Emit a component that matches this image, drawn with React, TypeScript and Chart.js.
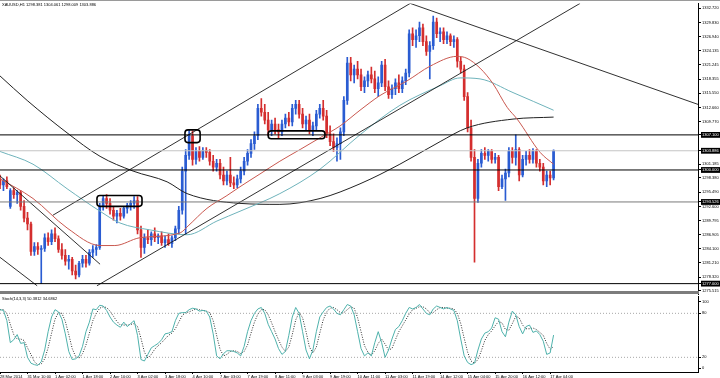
import React, { useEffect, useRef } from "react";
import { Chart, registerables } from "chart.js";

Chart.register(...registerables);

const FONT = '"Liberation Sans", Arial, sans-serif';

const symbolHeader = "XAUUSD,H1 1298.381 1304.061 1298.009 1303.886";
const stochHeader = "Stoch(14,3,3) 50.3812 34.6862";

const slotCount = 203;
const priceMin = 1274.78;
const priceMax = 1333.71;

const timeLabels = [
  "28 Mar 2014", "31 Mar 10:00", "1 Apr 02:00", "1 Apr 18:00", "2 Apr 10:00",
  "3 Apr 02:00", "3 Apr 18:00", "4 Apr 10:00", "7 Apr 03:00", "7 Apr 19:00",
  "8 Apr 11:00", "9 Apr 03:00", "9 Apr 19:00", "10 Apr 11:00", "11 Apr 03:00",
  "11 Apr 19:00", "14 Apr 12:00", "15 Apr 04:00", "15 Apr 20:00", "16 Apr 12:00",
  "17 Apr 04:00",
];
const labelEvery = 8;

const priceTicks = [
  1332.72, 1329.83, 1326.94, 1324.135, 1321.245, 1318.355, 1315.55, 1312.66, 1309.77,
  1301.185, 1298.38, 1295.49, 1292.6, 1289.795, 1286.905, 1284.1, 1281.21, 1278.32, 1275.515,
];
const levelPrices = [1307.1, 1303.886, 1300.0, 1293.526, 1277.0];
const levelColors = ["#000000", "#c4c4c4", "#000000", "#7a7a7a", "#000000"];

// [open, high, low, close]
const candles: number[][] = [
  [1298.20, 1298.99, 1296.21, 1297.00], [1297.00, 1298.20, 1295.82, 1297.80], [1297.80, 1298.59, 1296.21, 1296.61],
  [1292.64, 1296.21, 1292.24, 1295.82], [1295.82, 1296.41, 1294.23, 1295.02], [1295.02, 1295.82, 1293.24, 1295.42],
  [1295.42, 1295.82, 1291.85, 1292.64], [1292.64, 1293.83, 1289.47, 1290.26], [1290.26, 1291.45, 1287.88, 1289.07],
  [1289.07, 1289.47, 1282.72, 1283.51], [1283.51, 1285.30, 1282.72, 1284.51], [1284.51, 1285.30, 1282.92, 1283.91],
  [1283.91, 1284.71, 1276.97, 1284.11], [1284.11, 1287.08, 1283.51, 1286.29], [1286.29, 1287.28, 1284.71, 1285.50],
  [1285.50, 1287.88, 1284.90, 1287.08], [1287.08, 1288.27, 1285.50, 1286.09], [1286.09, 1286.69, 1283.32, 1283.91],
  [1283.91, 1285.10, 1281.93, 1282.72], [1282.72, 1283.91, 1280.74, 1281.53], [1281.53, 1282.72, 1279.94, 1281.93],
  [1281.93, 1282.32, 1278.75, 1279.55], [1279.55, 1280.74, 1277.96, 1278.75], [1278.75, 1281.53, 1278.35, 1281.13],
  [1281.13, 1282.72, 1280.34, 1281.93], [1281.93, 1282.72, 1280.34, 1281.13], [1281.13, 1283.91, 1280.74, 1283.32],
  [1283.32, 1284.71, 1282.32, 1283.91], [1283.91, 1284.90, 1282.72, 1284.31], [1284.31, 1293.24, 1283.91, 1292.64],
  [1292.64, 1294.82, 1291.85, 1294.23], [1294.23, 1295.02, 1292.24, 1293.24], [1293.24, 1294.23, 1291.05, 1291.85],
  [1291.85, 1292.64, 1289.86, 1290.66], [1290.66, 1291.85, 1289.27, 1291.25], [1291.25, 1292.24, 1289.86, 1290.66],
  [1290.66, 1292.64, 1290.26, 1292.24], [1292.24, 1293.24, 1291.25, 1292.84], [1292.84, 1293.83, 1291.85, 1293.24],
  [1293.24, 1294.63, 1292.24, 1293.83], [1293.83, 1294.63, 1287.08, 1287.88], [1287.88, 1288.67, 1282.32, 1284.31],
  [1284.31, 1287.08, 1283.12, 1286.29], [1286.29, 1287.88, 1285.10, 1285.89], [1285.89, 1287.48, 1284.71, 1287.08],
  [1287.08, 1288.27, 1285.50, 1286.29], [1286.29, 1287.08, 1285.10, 1286.69], [1286.69, 1287.48, 1284.71, 1285.30],
  [1285.30, 1286.69, 1284.31, 1285.89], [1285.89, 1287.08, 1284.71, 1285.10], [1285.10, 1286.69, 1284.31, 1286.29],
  [1286.29, 1288.67, 1285.70, 1288.08], [1288.08, 1292.64, 1287.08, 1291.85], [1291.85, 1300.58, 1291.05, 1299.78],
  [1299.78, 1304.15, 1286.89, 1302.96], [1302.96, 1308.12, 1302.16, 1306.93], [1306.93, 1307.92, 1300.97, 1302.16],
  [1302.16, 1304.55, 1301.17, 1303.75], [1303.75, 1304.74, 1301.77, 1302.56], [1302.56, 1304.55, 1302.16, 1303.95],
  [1303.95, 1304.55, 1302.56, 1303.55], [1303.55, 1304.15, 1300.97, 1301.77], [1301.77, 1302.96, 1299.78, 1300.58],
  [1300.58, 1302.16, 1299.78, 1301.37], [1301.37, 1302.16, 1298.20, 1298.99], [1298.99, 1300.58, 1297.00, 1297.80],
  [1297.80, 1299.78, 1297.00, 1298.99], [1298.99, 1302.56, 1296.61, 1297.40], [1297.40, 1298.59, 1296.21, 1297.00],
  [1297.00, 1298.99, 1296.41, 1298.20], [1298.20, 1300.58, 1297.40, 1299.78], [1299.78, 1302.56, 1298.99, 1301.77],
  [1301.77, 1304.15, 1300.97, 1303.36], [1303.36, 1306.13, 1302.56, 1305.34], [1305.34, 1307.72, 1304.15, 1306.93],
  [1306.93, 1313.27, 1306.13, 1312.48], [1312.48, 1314.47, 1310.89, 1311.69], [1311.69, 1313.27, 1309.31, 1310.10],
  [1310.10, 1311.69, 1306.93, 1308.12], [1308.12, 1310.10, 1306.93, 1309.31], [1309.31, 1310.50, 1307.32, 1308.12],
  [1308.12, 1309.31, 1306.53, 1307.72], [1307.72, 1310.10, 1306.93, 1309.31], [1309.31, 1311.29, 1308.51, 1310.50],
  [1310.50, 1311.69, 1308.91, 1309.70], [1309.70, 1313.27, 1308.91, 1312.48], [1312.48, 1314.07, 1311.29, 1313.27],
  [1313.27, 1314.07, 1310.50, 1311.29], [1311.29, 1312.48, 1308.51, 1309.31], [1309.31, 1310.89, 1308.12, 1310.10],
  [1310.10, 1311.29, 1307.32, 1308.12], [1308.12, 1309.70, 1306.93, 1308.91], [1308.91, 1312.09, 1308.12, 1311.29],
  [1311.29, 1313.27, 1310.50, 1312.48], [1312.48, 1314.07, 1310.10, 1310.89], [1310.89, 1312.09, 1306.53, 1307.32],
  [1307.32, 1308.91, 1304.94, 1305.74], [1305.74, 1307.32, 1303.75, 1304.55], [1304.55, 1306.53, 1301.77, 1305.34],
  [1305.34, 1308.51, 1302.16, 1307.72], [1307.72, 1314.86, 1306.93, 1314.07], [1314.07, 1322.80, 1313.27, 1321.61],
  [1321.61, 1322.80, 1318.04, 1319.23], [1319.23, 1321.21, 1317.64, 1320.42], [1320.42, 1322.01, 1318.43, 1319.23],
  [1319.23, 1320.42, 1316.05, 1316.85], [1316.85, 1318.83, 1315.66, 1318.04], [1318.04, 1320.02, 1316.85, 1319.23],
  [1319.23, 1320.81, 1317.64, 1318.43], [1318.43, 1320.02, 1315.66, 1316.45], [1316.45, 1318.83, 1314.86, 1317.64],
  [1317.64, 1322.01, 1316.85, 1321.21], [1321.21, 1322.40, 1316.05, 1316.85], [1316.85, 1318.04, 1314.47, 1315.26],
  [1315.26, 1317.24, 1314.47, 1316.45], [1316.45, 1318.43, 1315.26, 1317.64], [1317.64, 1319.23, 1315.66, 1316.45],
  [1316.45, 1318.83, 1315.66, 1318.04], [1318.04, 1320.42, 1317.24, 1319.62], [1319.62, 1328.35, 1318.83, 1327.56],
  [1327.56, 1328.75, 1325.18, 1326.37], [1326.37, 1328.35, 1324.78, 1327.16], [1327.16, 1329.94, 1325.97, 1328.75],
  [1328.75, 1329.54, 1325.18, 1325.97], [1325.97, 1327.16, 1323.20, 1323.99], [1323.99, 1325.97, 1318.43, 1325.18],
  [1325.18, 1331.13, 1324.39, 1329.94], [1329.94, 1330.74, 1326.77, 1327.56], [1327.56, 1328.75, 1325.97, 1327.96],
  [1327.96, 1328.75, 1325.58, 1326.37], [1326.37, 1327.96, 1325.58, 1327.16], [1327.16, 1327.56, 1325.18, 1325.97],
  [1325.97, 1327.16, 1324.78, 1326.37], [1326.37, 1326.77, 1320.81, 1322.01], [1322.01, 1322.80, 1319.62, 1320.42],
  [1320.42, 1321.21, 1314.07, 1314.86], [1314.86, 1315.66, 1307.72, 1308.51], [1308.51, 1310.10, 1301.77, 1302.56],
  [1302.56, 1304.15, 1281.33, 1294.23], [1294.23, 1302.16, 1293.44, 1301.37], [1301.37, 1304.15, 1300.58, 1303.36],
  [1303.36, 1304.55, 1302.16, 1302.96], [1302.96, 1304.15, 1301.77, 1303.75], [1303.75, 1304.15, 1301.37, 1302.16],
  [1302.16, 1303.36, 1301.37, 1302.56], [1302.56, 1302.96, 1295.82, 1296.61], [1296.61, 1298.99, 1296.21, 1298.20],
  [1298.20, 1300.18, 1293.83, 1299.39], [1299.39, 1304.55, 1298.59, 1303.75], [1303.75, 1304.55, 1301.37, 1302.56],
  [1302.56, 1307.12, 1300.97, 1304.15], [1304.15, 1304.55, 1297.80, 1298.99], [1298.99, 1302.96, 1298.59, 1302.16],
  [1302.16, 1303.75, 1300.97, 1302.96], [1302.96, 1304.15, 1301.37, 1302.16], [1302.16, 1304.35, 1301.37, 1303.75],
  [1303.75, 1304.15, 1300.58, 1301.37], [1301.37, 1302.16, 1299.78, 1300.58], [1300.58, 1301.37, 1297.00, 1297.80],
  [1297.80, 1299.78, 1296.61, 1298.99], [1298.99, 1299.78, 1297.00, 1298.38], [1298.381, 1304.061, 1298.009, 1303.886],
];

// moving averages: [slot, price]
const maFast = [
  [0, 1298.2], [9.6, 1294.23], [19.5, 1288.27], [29.1, 1284.71], [33.4, 1284.71], [40.7, 1286.29],
  [52.4, 1287.28], [54.7, 1288.67], [60.2, 1292.24], [66, 1294.82], [69.8, 1296.61], [75.6, 1299.19],
  [81.4, 1301.77], [87.3, 1304.15], [93.1, 1306.53], [98.9, 1308.91], [104.7, 1312.09], [110.5, 1315.06],
  [118.4, 1318.04], [125.1, 1321.01], [132.9, 1322.99], [135.8, 1322.6], [139.6, 1320.62], [143.4, 1317.44],
  [147.5, 1312.68], [150.4, 1310.3], [157.1, 1303.55], [161, 1301.17],
];
const maMid = [
  [0, 1303.75], [9.6, 1301.17], [19.5, 1296.21], [29.1, 1291.65], [34.9, 1289.27], [43.6, 1287.88],
  [54.4, 1286.89], [63.1, 1289.67], [69.8, 1291.65], [81.4, 1295.22], [93.1, 1300.18], [104.7, 1307.12],
  [116.3, 1313.08], [128, 1317.05], [133.8, 1318.63], [139.6, 1318.43], [149.2, 1315.66], [161, 1312.09],
];
const maSlow = [
  [0, 1319.03], [7.9, 1314.07], [19.5, 1307.52], [29.1, 1302.76], [38.7, 1299.78], [48.6, 1297.6],
  [54.4, 1295.22], [69.8, 1293.24], [81.4, 1293.04], [93.1, 1294.23], [104.7, 1297.2], [116.3, 1301.17],
  [128, 1305.74], [135.8, 1308.51], [149.2, 1310.3], [161, 1310.7],
];

const trendLines = [
  [[0, 1298.79], [29.1, 1280.93]],
  [[0, 1282.32], [10.8, 1276.57]],
  [[15.4, 1290.85], [119.3, 1333.71]],
  [[28.2, 1276.57], [168.7, 1333.71]],
  [[119.3, 1333.71], [203, 1313.27]],
];

// [fromSlot, toSlot, topPrice, bottomPrice]
const zones = [
  [28.2, 41.3, 1294.82, 1292.64],
  [53.8, 58.2, 1308.12, 1305.54],
  [78.0, 94.5, 1307.92, 1306.33],
];

const stochK = [
  85, 84, 70, 40, 44, 51, 39, 40, 20, 12, 10, 9, 14, 30, 55, 75, 85, 82, 72, 52,
  28, 17, 18, 22, 35, 55, 68, 86, 85, 91, 90, 84, 75, 68, 64, 61, 68, 62, 66, 70,
  50, 17, 15, 24, 33, 36, 39, 44, 52, 53, 55, 70, 80, 81, 81, 85, 87, 86, 83, 84,
  83, 75, 52, 22, 18, 25, 29, 29, 28, 26, 22, 35, 55, 70, 80, 86, 88, 80, 65, 55,
  45, 32, 24, 28, 50, 75, 88, 80, 55, 30, 18, 30, 55, 75, 82, 88, 90, 86, 80, 78,
  85, 92, 90, 78, 55, 32, 22, 26, 22, 40, 55, 40, 20, 30, 45, 58, 62, 70, 80, 88,
  86, 88, 92, 86, 80, 78, 86, 90, 88, 86, 88, 86, 84, 70, 45, 22, 13, 10, 12, 30,
  45, 53, 55, 60, 74, 72, 55, 48, 68, 83, 78, 62, 52, 62, 64, 54, 56, 51, 42, 24,
  26, 50.38,
];
const stochD = [
  85, 85, 80, 65, 51, 45, 45, 43, 33, 24, 14, 10, 11, 18, 33, 53, 72, 81, 80, 69,
  51, 32, 21, 19, 25, 37, 53, 70, 80, 87, 89, 88, 83, 76, 69, 64, 64, 64, 65, 66,
  62, 46, 27, 19, 24, 31, 36, 40, 45, 50, 53, 59, 68, 77, 81, 82, 84, 86, 85, 84,
  83, 81, 70, 50, 31, 22, 24, 28, 29, 28, 25, 28, 37, 53, 68, 79, 85, 85, 78, 67,
  55, 44, 34, 28, 34, 51, 71, 81, 74, 55, 34, 26, 34, 53, 71, 82, 87, 88, 85, 81,
  81, 85, 89, 87, 74, 55, 36, 27, 23, 29, 39, 45, 38, 30, 32, 44, 55, 63, 71, 79,
  85, 87, 89, 89, 86, 81, 81, 85, 88, 88, 87, 87, 86, 80, 66, 46, 27, 15, 12, 17,
  29, 43, 51, 56, 63, 69, 67, 58, 57, 66, 76, 74, 64, 59, 59, 60, 58, 54, 50, 39,
  31, 34.69,
];
const stochLevels = [80, 20];
const stochTickValues = [96, 80, 20, 5];
const stochTickText = ["100", "80", "20", "0"];

const bullColor = "#2a5cd2";
const bearColor = "#d42e2e";

export default function App() {
  const mainRef = useRef<HTMLCanvasElement>(null);
  const stochRef = useRef<HTMLCanvasElement>(null);

  useEffect(() => {
    const colors = candles.map((c) => (c[3] >= c[0] ? bullColor : bearColor));
    const font = { family: FONT, size: 4 };

    const lineSet = (pts: number[][], color: string, width = 1, smooth = false, dash: number[] = []) => ({
      type: "line" as const,
      data: pts.map((p) => ({ x: p[0], y: p[1] })),
      borderColor: color,
      borderWidth: width,
      borderDash: dash,
      pointRadius: 0,
      tension: smooth ? 0.4 : 0,
      cubicInterpolationMode: smooth ? ("monotone" as const) : ("default" as const),
      fill: false,
    });

    const mainDecor = {
      id: "mainDecor",
      afterDatasetsDraw(chart: any) {
        const { ctx, scales } = chart;
        ctx.save();
        ctx.strokeStyle = "#000";
        ctx.lineWidth = 1.6;
        zones.forEach((z) => {
          const x0 = scales.x.getPixelForValue(z[0]);
          const x1 = scales.x.getPixelForValue(z[1]);
          const y0 = scales.y.getPixelForValue(z[2]);
          const y1 = scales.y.getPixelForValue(z[3]);
          ctx.beginPath();
          (ctx as any).roundRect(x0, y0, x1 - x0, y1 - y0, 3);
          ctx.stroke();
        });
        ctx.restore();
      },
      afterDraw(chart: any) {
        const { ctx, chartArea } = chart;
        ctx.save();
        ctx.fillStyle = "#9a9a9a";
        ctx.fillRect(0, 0, 720, 1);
        ctx.fillStyle = "#7c7c7c";
        ctx.fillRect(0, 291, chartArea.right + 1, 3);
        ctx.fillStyle = "#000";
        ctx.font = `4px ${FONT}`;
        ctx.textBaseline = "middle";
        ctx.fillText(symbolHeader, 2, 5);
        ctx.restore();
      },
    };

    const datasets: any[] = [];
    levelPrices.forEach((p, i) =>
      datasets.push(lineSet([[0, p], [slotCount, p]], levelColors[i], 1))
    );
    trendLines.forEach((t) => datasets.push(lineSet(t, "#1a1a1a", 0.9)));
    datasets.push(lineSet(maFast, "#c9584f", 1, true));
    datasets.push(lineSet(maMid, "#6fb3bb", 1, true));
    datasets.push(lineSet(maSlow, "#222222", 1, true));
    datasets.push({
      type: "bar",
      data: candles.map((c, i) => ({ x: i, y: [c[0], c[3]] })),
      backgroundColor: colors,
      borderWidth: 0,
      barThickness: 2,
      grouped: false,
    });
    datasets.push({
      type: "bar",
      data: candles.map((c, i) => ({ x: i, y: [c[2], c[1]] })),
      backgroundColor: colors,
      borderWidth: 0,
      barThickness: 1,
      grouped: false,
    });

    const mainChart = new Chart(mainRef.current as HTMLCanvasElement, {
      type: "line",
      data: { datasets },
      options: {
        animation: false,
        responsive: false,
        maintainAspectRatio: false,
        events: [],
        layout: { padding: { top: 1, left: 0, right: 0, bottom: 0 } },
        plugins: { legend: { display: false }, tooltip: { enabled: false } },
        scales: {
          x: { type: "linear", min: 0, max: slotCount, offset: false, display: false },
          y: {
            type: "linear",
            position: "right",
            min: priceMin,
            max: priceMax,
            afterFit: (s: any) => {
              s.width = 22;
            },
            afterBuildTicks: (s: any) => {
              s.ticks = [...priceTicks, ...levelPrices].map((v) => ({ value: v }));
            },
            ticks: {
              autoSkip: false,
              padding: 1,
              font,
              color: (c: any) => (levelPrices.includes(c.tick?.value) ? "#ffffff" : "#000000"),
              showLabelBackdrop: (c: any) => levelPrices.includes(c.tick?.value),
              backdropColor: "#000000",
              backdropPadding: { left: 1, right: 3, top: 0.5, bottom: 0.5 },
              callback: (v: any) => Number(v).toFixed(3),
            },
            grid: { drawOnChartArea: false, tickLength: 3, color: "#000" },
            border: { color: "#000" },
          },
        },
      } as any,
      plugins: [mainDecor],
    });

    const stochDecor = {
      id: "stochDecor",
      afterDraw(chart: any) {
        const { ctx } = chart;
        ctx.save();
        ctx.fillStyle = "#000";
        ctx.font = `4px ${FONT}`;
        ctx.textBaseline = "middle";
        ctx.fillText(stochHeader, 2, 6);
        ctx.restore();
      },
    };

    const stochChart = new Chart(stochRef.current as HTMLCanvasElement, {
      type: "line",
      data: {
        datasets: [
          lineSet(stochK.map((v, i) => [i, v]), "#4fb2ac", 1),
          lineSet(stochD.map((v, i) => [i, v]), "#303030", 1, false, [1, 1.5]),
          ...stochLevels.map((l) => lineSet([[0, l], [slotCount, l]], "#a8a8a8", 1, false, [1, 2])),
        ] as any,
      },
      options: {
        animation: false,
        responsive: false,
        maintainAspectRatio: false,
        events: [],
        layout: { padding: 0 },
        plugins: { legend: { display: false }, tooltip: { enabled: false } },
        scales: {
          x: {
            type: "linear",
            min: 0,
            max: slotCount,
            offset: false,
            afterFit: (s: any) => {
              s.height = 6;
            },
            afterBuildTicks: (s: any) => {
              s.ticks = timeLabels.map((_, i) => ({ value: i * labelEvery }));
            },
            ticks: {
              autoSkip: false,
              maxRotation: 0,
              minRotation: 0,
              align: "start",
              padding: 0,
              font,
              color: "#000",
              callback: (v: any) => timeLabels[Math.round(Number(v) / labelEvery)] ?? "",
            },
            grid: { drawOnChartArea: false, tickLength: 2, color: "#000" },
            border: { color: "#000" },
          },
          y: {
            type: "linear",
            position: "right",
            min: 0,
            max: 103.1,
            afterFit: (s: any) => {
              s.width = 22;
            },
            afterBuildTicks: (s: any) => {
              s.ticks = stochTickValues.map((v) => ({ value: v }));
            },
            ticks: {
              autoSkip: false,
              padding: 1,
              font,
              color: "#000",
              callback: (_v: any, i: number) => stochTickText[i],
            },
            grid: { drawOnChartArea: false, tickLength: 3, color: "#000" },
            border: { color: "#000" },
          },
        },
      } as any,
      plugins: [stochDecor],
    });

    return () => {
      mainChart.destroy();
      stochChart.destroy();
    };
  }, []);

  return (
    <div
      style={{
        position: "absolute",
        left: 0,
        top: 0,
        width: 720,
        height: 378,
        background: "#ffffff",
        overflow: "hidden",
      }}
    >
      <canvas
        ref={stochRef}
        width={720}
        height={85}
        style={{ position: "absolute", left: 0, top: 293, zIndex: 1 }}
      />
      <canvas
        ref={mainRef}
        width={720}
        height={298}
        style={{ position: "absolute", left: 0, top: 0, zIndex: 2 }}
      />
    </div>
  );
}
